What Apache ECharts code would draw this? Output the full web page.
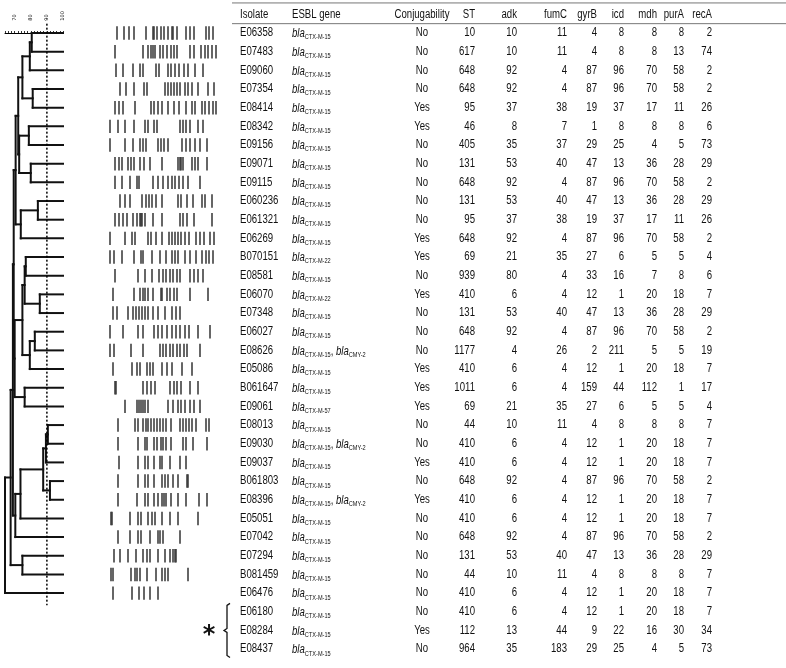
<!DOCTYPE html>
<html><head><meta charset="utf-8">
<script src="https://cdn.jsdelivr.net/npm/echarts@6/dist/echarts.min.js"></script>
<style>html,body{margin:0;padding:0;background:#fff}#c{width:786px;height:668px}</style>
</head><body><div id="c"></div>
<script>
// ---------------- DATA ----------------
const isolates = ["E06358","E07483","E09060","E07354","E08414","E08342","E09156","E09071","E09115","E060236","E061321","E06269","B070151","E08581","E06070","E07348","E06027","E08626","E05086","B061647","E09061","E08013","E09030","E09037","B061803","E08396","E05051","E07042","E07294","B081459","E06476","E06180","E08284","E08437"];
const esblGenes = ["CTX-M-15","CTX-M-15","CTX-M-15","CTX-M-15","CTX-M-15","CTX-M-15","CTX-M-15","CTX-M-15","CTX-M-15","CTX-M-15","CTX-M-15","CTX-M-15","CTX-M-22","CTX-M-15","CTX-M-22","CTX-M-15","CTX-M-15","CTX-M-15, CMY-2","CTX-M-15","CTX-M-15","CTX-M-57","CTX-M-15","CTX-M-15, CMY-2","CTX-M-15","CTX-M-15","CTX-M-15, CMY-2","CTX-M-15","CTX-M-15","CTX-M-15","CTX-M-15","CTX-M-15","CTX-M-15","CTX-M-15","CTX-M-15"];
const conjugability = ["No","No","No","No","Yes","Yes","No","No","No","No","No","Yes","Yes","No","Yes","No","No","No","Yes","Yes","Yes","No","No","Yes","No","Yes","No","No","No","No","No","No","Yes","No"];
const st    = [10,617,648,648,95,46,405,131,648,131,95,648,69,939,410,131,648,1177,410,1011,69,44,410,410,648,410,410,648,131,44,410,410,112,964];
const adk   = [10,10,92,92,37,8,35,53,92,53,37,92,21,80,6,53,92,4,6,6,21,10,6,6,92,6,6,92,53,10,6,6,13,35];
const fumC  = [11,11,4,4,38,7,37,40,4,40,38,4,35,4,4,40,4,26,4,4,35,11,4,4,4,4,4,4,40,11,4,4,44,183];
const gyrB  = [4,4,87,87,19,1,29,47,87,47,19,87,27,33,12,47,87,2,12,159,27,4,12,12,87,12,12,87,47,4,12,12,9,29];
const icd   = [8,8,96,96,37,8,25,13,96,13,37,96,6,16,1,13,96,211,1,44,6,8,1,1,96,1,1,96,13,8,1,1,22,25];
const mdh   = [8,8,70,70,17,8,4,36,70,36,17,70,5,7,20,36,70,5,20,112,5,8,20,20,70,20,20,70,36,8,20,20,16,4];
const purA  = [8,13,58,58,11,8,5,28,58,28,11,58,5,8,18,28,58,5,18,1,5,8,18,18,58,18,18,58,28,8,18,18,30,5];
const recA  = [2,74,2,2,26,6,73,29,2,29,26,2,4,6,7,29,2,19,7,17,4,7,7,7,2,7,7,2,29,7,7,7,34,73];
const headers = ["Isolate","ESBL gene","Conjugability","ST","adk","fumC","gyrB","icd","mdh","purA","recA"];

// dendrogram (similarity %), leaves = first 31 isolates; merges listed as linkage
const leafCount = 31;
const mergeA = [0,31,3,32,5,7,35,34,9,39,38,12,14,42,16,45,44,19,47,41,21,51,24,52,54,55,50,28,57,59];
const mergeB = [1,2,4,33,6,8,36,37,10,11,40,13,15,43,17,18,46,20,48,49,22,23,25,53,26,27,56,29,58,30];
const mergeHeight = [80.6,79.4,81.2,74.8,78.8,80.0,72.8,72.2,84.4,73.8,70.6,76.9,85.6,76.2,82.5,79.4,74.8,76.2,70.0,69.4,90.6,89.4,91.9,87.7,73.6,70.4,68.9,74.8,67.5,64];
const scaleLabels = [70,80,90,100];
const cutoff = 90;

// PFGE band positions (lane units 0..120) per lane
const bandLanes = [
 [7,14,19,24,36,43,44,47,51,54,58,62,63,67,76,80,84,96,99,103],
 [5,33,38,41,43,45,50,53,57,61,64,67,80,84,91,95,98,102,106],
 [6,13,23,30,33,46,49,58,61,65,69,74,78,85,93],
 [10,16,24,34,37,55,58,61,64,67,70,75,78,82,88,98,104],
 [5,9,13,25,41,44,48,52,58,64,69,76,82,85,92,95,99,103,106],
 [0,8,15,24,35,38,44,47,70,73,76,80,88,93],
 [0,15,23,30,33,36,48,51,54,58,72,76,80,85,90,97],
 [5,9,12,18,21,24,30,34,40,52,68,70,71,73,82,85,88,97],
 [5,12,20,27,29,43,48,53,58,62,65,69,73,78,90],
 [10,15,20,32,36,39,42,46,52,68,71,77,83,92,95,102],
 [5,9,13,17,23,27,30,31,32,35,43,52,70,73,77,84,102],
 [0,15,22,25,38,41,46,52,59,62,65,68,71,75,79,86,90,94,100,104],
 [0,4,12,24,31,33,42,50,56,62,65,68,75,80,86,92,96,99,103],
 [5,28,35,42,49,53,56,60,63,67,70,80,84,88,93],
 [3,24,30,33,35,38,43,51,52,57,60,64,67,80,98],
 [3,7,18,23,26,29,32,35,38,43,48,55,62,66,70],
 [0,13,28,33,44,48,52,57,62,66,70,75,79,88,100],
 [0,4,21,33,50,53,56,60,63,67,70,74,77,90],
 [3,22,27,30,37,40,43,52,57,62,72,82],
 [5,6,33,37,41,45,60,64,67,71,80,88],
 [15,27,29,31,33,35,38,58,63,68,71,75,80,84,90],
 [8,25,28,33,36,38,41,44,47,50,53,56,61,70,73,76,79,82,86,96,99],
 [8,28,35,37,44,47,51,53,56,61,73,76,83,97],
 [9,28,35,38,44,50,52,60,70,76],
 [8,28,35,38,44,52,55,58,63,68,77,78],
 [8,27,35,38,44,48,52,54,56,61,68,76,89,97],
 [1,2,20,28,31,38,42,45,52,60,68,88],
 [8,20,28,31,40,48,50,53,70],
 [4,10,18,26,33,37,40,48,55,60,63,65,66],
 [1,3,21,25,27,30,37,46,52,55,58,78],
 [3,22,29,34,40,48]
];
const bracketRows = [31,33];

// ---------------- BUILD ----------------
const FONT = '"Liberation Sans",Arial,sans-serif';
const SX = 0.8;
const nRows = isolates.length;
const nodeY = [], nodeH = [];
for (let i = 0; i < leafCount; i++) { nodeY[i] = i; nodeH[i] = 100; }
const dendroData = mergeHeight.map((h, k) => {
  const a = mergeA[k], b = mergeB[k], id = leafCount + k;
  nodeY[id] = (nodeY[a] + nodeY[b]) / 2; nodeH[id] = h;
  return [h, nodeY[a], nodeY[b], nodeH[a], nodeH[b]];
});
const bandData = [];
bandLanes.forEach((lane, r) => lane.forEach(p => bandData.push([p, r])));

const rowH = 18.67, rowTop = 33 - rowH / 2;
const gridBase = { top: rowTop, height: nRows * rowH };
const yBase = { type: 'value', inverse: true, min: -0.5, max: nRows - 0.5, show: false };

const cols = [
  { x: 240, align: 'left' }, { x: 292, align: 'left' }, { x: 422, align: 'center' },
  { x: 475, align: 'right' }, { x: 517, align: 'right' }, { x: 567, align: 'right' },
  { x: 597, align: 'right' }, { x: 624, align: 'right' }, { x: 657, align: 'right' },
  { x: 684, align: 'right' }, { x: 712, align: 'right' }
];
const rich = {
  n: { fontFamily: FONT, fontSize: 12, lineHeight: 14, fill: '#111' },
  i: { fontFamily: FONT, fontSize: 12, fontStyle: 'italic', lineHeight: 14, fill: '#111' },
  s: { fontFamily: FONT, fontSize: 7, lineHeight: 8, verticalAlign: 'bottom', fill: '#111' }
};
function geneText(g) {
  return g.split(', ').map(x => '{i|bla}{s|' + x + '}').join('{n|, }');
}
function txt(x, y, text, align) {
  return { type: 'text', x: x, y: y, scaleX: SX,
    style: { text: text, fontFamily: FONT, fontSize: 12, fill: '#111', align: align, verticalAlign: 'middle' } };
}

const chart = echarts.init(document.getElementById('c'));
chart.setOption({
  animation: false,
  backgroundColor: '#fff',
  grid: [
    Object.assign({ left: 5, width: 58 }, gridBase),
    Object.assign({ left: 110, width: 120 }, gridBase),
    Object.assign({ left: 0, width: 786 }, gridBase)
  ],
  xAxis: [
    { gridIndex: 0, type: 'value', min: 64, max: 100, interval: 2, position: 'top',
      axisLine: { show: true, lineStyle: { color: '#000', width: 1 } },
      axisTick: { show: true, length: 2, lineStyle: { color: '#000', width: 0.8 } },
      axisLabel: { show: true, rotate: 90, fontSize: 5, margin: 3, color: '#000', fontFamily: 'DejaVu Sans',
        formatter: v => scaleLabels.includes(v) ? String(v) : '' },
      splitLine: { show: false } },
    { gridIndex: 1, type: 'value', min: 0, max: 120, show: false },
    { gridIndex: 2, type: 'value', min: 0, max: 786, show: false }
  ],
  yAxis: [0, 1, 2].map(i => Object.assign({ gridIndex: i }, yBase)),
  series: [
    { type: 'custom', xAxisIndex: 0, yAxisIndex: 0, silent: true, data: dendroData,
      encode: { x: [0, 3, 4], y: [1, 2] },
      renderItem(params, api) {
        const h = api.value(0), ya = api.value(1), yb = api.value(2), ha = api.value(3), hb = api.value(4);
        const p1 = api.coord([h, ya]), p2 = api.coord([h, yb]), pa = api.coord([ha, ya]), pb = api.coord([hb, yb]);
        const s = { stroke: '#111', lineWidth: 2, lineCap: 'square' };
        return { type: 'group', children: [
          { type: 'line', shape: { x1: p1[0], y1: p1[1], x2: p2[0], y2: p2[1] }, style: s },
          { type: 'line', shape: { x1: p1[0], y1: p1[1], x2: pa[0], y2: pa[1] }, style: s },
          { type: 'line', shape: { x1: p2[0], y1: p2[1], x2: pb[0], y2: pb[1] }, style: s }
        ] };
      } },
    { type: 'custom', xAxisIndex: 0, yAxisIndex: 0, silent: true, data: [[cutoff, -0.5, leafCount - 0.35]],
      renderItem(params, api) {
        const a = api.coord([api.value(0), api.value(1)]), b = api.coord([api.value(0), api.value(2)]);
        return { type: 'line', shape: { x1: a[0], y1: a[1], x2: b[0], y2: b[1] },
          style: { stroke: '#000', lineWidth: 1.5, lineDash: [2, 2] } };
      } },
    { type: 'custom', xAxisIndex: 1, yAxisIndex: 1, silent: true, data: bandData,
      renderItem(params, api) {
        const c = api.coord([api.value(0), api.value(1)]);
        const hh = api.size([0, 1])[1] * 0.72;
        return { type: 'rect', shape: { x: c[0] - 0.75, y: c[1] - hh / 2, width: 1.5, height: hh },
          style: { fill: '#333' } };
      } },
    { type: 'custom', xAxisIndex: 2, yAxisIndex: 2, silent: true, data: [[bracketRows[0], bracketRows[1]]],
      encode: { y: [0, 1] },
      renderItem(params, api) {
        const r0 = api.value(0), r1 = api.value(1);
        const top = api.coord([227, r0 - 0.45]), bot = api.coord([227, r1 + 0.45]), mid = api.coord([227, (r0 + r1) / 2]);
        const x = top[0];
        const ast = api.coord([209, (r0 + r1) / 2]);
        return { type: 'group', children: [
          { type: 'polyline', shape: { points: [[x + 3, top[1]], [x, top[1] + 2], [x, mid[1] - 2], [x - 3, mid[1]], [x, mid[1] + 2], [x, bot[1] - 2], [x + 3, bot[1]]] },
            style: { stroke: '#111', lineWidth: 1.3, fill: null } },
          { type: 'text', x: ast[0], y: ast[1] + 5, style: { text: '*', fontFamily: 'DejaVu Sans', fontWeight: 'bold', fontSize: 24, fill: '#111', align: 'center', verticalAlign: 'middle' } }
        ] };
      } },
    { type: 'custom', xAxisIndex: 2, yAxisIndex: 2, silent: true, data: [[-1.61], [-0.5]],
      encode: { y: 0 },
      renderItem(params, api) {
        const a = api.coord([232, api.value(0)]), b = api.coord([786, api.value(0)]);
        return { type: 'line', shape: { x1: a[0], y1: a[1], x2: b[0], y2: b[1] }, style: { stroke: '#777', lineWidth: 1 } };
      } },
    { type: 'custom', xAxisIndex: 2, yAxisIndex: 2, silent: true, data: [[-1]],
      encode: { y: 0 },
      renderItem(params, api) {
        const y = api.coord([0, api.value(0)])[1];
        return { type: 'group', children: headers.map((t, j) => txt(cols[j].x, y, t, cols[j].align)) };
      } },
    { type: 'custom', xAxisIndex: 2, yAxisIndex: 2, silent: true, data: isolates.map((_, r) => [r]),
      encode: { y: 0 },
      renderItem(params, api) {
        const r = params.dataIndex;
        const y = api.coord([0, api.value(0)])[1];
        const vals = [isolates[r], null, conjugability[r], st[r], adk[r], fumC[r], gyrB[r], icd[r], mdh[r], purA[r], recA[r]];
        const children = vals.map((v, j) => {
          if (j === 1) {
            return { type: 'text', x: cols[j].x, y: y + 1, scaleX: SX,
              style: { text: geneText(esblGenes[r]), rich: rich, align: 'left', verticalAlign: 'middle', fontFamily: FONT, fontSize: 12 } };
          }
          return txt(cols[j].x, y, String(v), cols[j].align);
        });
        return { type: 'group', children };
      } }
  ]
});
</script></body></html>
